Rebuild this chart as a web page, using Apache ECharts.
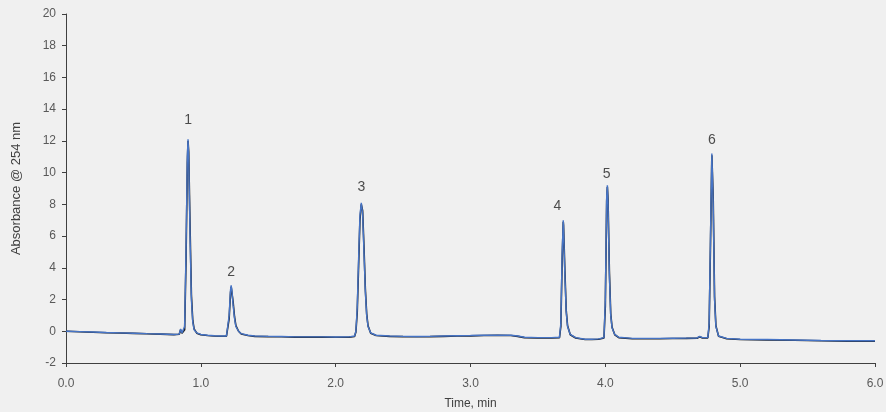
<!DOCTYPE html>
<html>
<head>
<meta charset="utf-8">
<script src="https://cdn.jsdelivr.net/npm/echarts@6/dist/echarts.min.js"></script>
<style>
html,body{margin:0;padding:0;background:#f0f0f0;}
#c{width:886px;height:412px;}
</style>
</head>
<body>
<div id="c"></div>
<script>
var traceTime = [0.00,0.10,0.20,0.30,0.40,0.50,0.60,0.70,0.80,0.84,0.85,0.86,0.87,0.88,0.89,0.90,0.905,0.91,0.92,0.93,0.94,0.95,0.97,1.00,1.05,1.10,1.15,1.19,1.20,1.21,1.22,1.225,1.23,1.24,1.25,1.26,1.28,1.30,1.35,1.40,1.50,1.60,1.70,1.80,1.90,2.00,2.10,2.14,2.15,2.16,2.17,2.18,2.19,2.20,2.21,2.22,2.23,2.24,2.26,2.30,2.40,2.50,2.60,2.70,2.80,2.90,3.00,3.10,3.20,3.30,3.35,3.40,3.50,3.60,3.66,3.67,3.68,3.688,3.69,3.70,3.71,3.72,3.74,3.78,3.85,3.90,3.95,3.99,4.00,4.01,4.015,4.02,4.03,4.04,4.05,4.07,4.10,4.20,4.30,4.40,4.50,4.60,4.68,4.70,4.72,4.76,4.77,4.78,4.79,4.80,4.81,4.82,4.84,4.90,5.00,5.20,5.40,5.60,5.80,6.00];
var blueAbs = [0.00,-0.02,-0.05,-0.08,-0.10,-0.12,-0.15,-0.17,-0.20,-0.18,0.15,-0.10,-0.20,0.30,5.0,11.0,12.1,11.0,6.0,2.0,0.6,0.1,-0.10,-0.20,-0.25,-0.28,-0.30,-0.30,-0.20,1.0,2.6,2.9,2.6,1.6,0.8,0.3,0.0,-0.15,-0.25,-0.30,-0.32,-0.33,-0.35,-0.35,-0.35,-0.36,-0.35,-0.30,0.0,1.5,4.5,7.3,8.1,7.4,5.0,2.5,1.0,0.3,-0.10,-0.25,-0.30,-0.32,-0.33,-0.32,-0.30,-0.28,-0.27,-0.25,-0.24,-0.25,-0.30,-0.38,-0.40,-0.40,-0.38,0.5,5.0,7.0,6.5,3.5,1.2,0.3,-0.20,-0.40,-0.50,-0.50,-0.48,-0.40,2.0,8.5,9.2,8.0,3.5,1.0,0.2,-0.20,-0.38,-0.45,-0.45,-0.45,-0.44,-0.43,-0.42,-0.32,-0.40,-0.40,0.5,6.0,11.2,8.0,2.0,0.3,-0.30,-0.45,-0.50,-0.52,-0.55,-0.58,-0.60,-0.60];
var blackAbs = [0.00,-0.03,-0.06,-0.09,-0.11,-0.13,-0.16,-0.18,-0.21,-0.19,0.10,-0.12,-0.21,0.10,4.4,10.6,12.0,11.3,6.6,2.3,0.7,0.15,-0.12,-0.22,-0.27,-0.30,-0.31,-0.31,-0.24,0.8,2.4,2.8,2.7,1.8,0.9,0.35,0.0,-0.17,-0.27,-0.32,-0.34,-0.35,-0.37,-0.37,-0.37,-0.38,-0.37,-0.33,-0.05,1.2,4.1,7.0,8.0,7.6,5.3,2.7,1.1,0.35,-0.12,-0.27,-0.32,-0.34,-0.35,-0.34,-0.32,-0.30,-0.29,-0.27,-0.26,-0.27,-0.32,-0.40,-0.42,-0.42,-0.40,0.3,4.6,6.9,6.7,3.8,1.3,0.35,-0.22,-0.42,-0.52,-0.52,-0.50,-0.42,1.6,8.2,9.1,8.3,3.8,1.1,0.25,-0.22,-0.40,-0.47,-0.47,-0.47,-0.46,-0.45,-0.44,-0.35,-0.42,-0.42,0.3,5.5,11.1,8.4,2.2,0.35,-0.32,-0.47,-0.52,-0.54,-0.57,-0.60,-0.62,-0.62];
var peakNames = ['1','2','3','4','5','6'];
var labelTimes = [0.905,1.225,2.19,3.645,4.01,4.79];
var labelAnchors = [12.5,2.9,8.25,7.05,9.1,11.2];
var xTicks = [0,1,2,3,4,5,6];
var yTicks = [-2,0,2,4,6,8,10,12,14,16,18,20];

function pairs(xs, ys){ var o=[]; for(var i=0;i<xs.length;i++){o.push([xs[i],ys[i]]);} return o; }
var fontFam = "'Liberation Sans',sans-serif";
var chart = echarts.init(document.getElementById('c'));
chart.setOption({
  backgroundColor:'#f0f0f0',
  animation:false,
  grid:{left:66,right:11,top:14,bottom:49,containLabel:false,outerBoundsMode:'none'},
  xAxis:{
    type:'value',min:xTicks[0],max:xTicks[xTicks.length-1],interval:1,
    name:'Time, min',nameLocation:'middle',nameGap:35,
    nameTextStyle:{fontFamily:fontFam,fontSize:12,color:'#404040'},
    axisLine:{onZero:false,lineStyle:{color:'#404040',width:1}},
    axisTick:{show:true,length:4,lineStyle:{color:'#404040'}},
    axisLabel:{fontFamily:fontFam,fontSize:12,color:'#595959',margin:15,formatter:function(v){return v.toFixed(1);}},
    splitLine:{show:false}
  },
  yAxis:{
    type:'value',min:yTicks[0],max:yTicks[yTicks.length-1],interval:2,
    name:'Absorbance @ 254 nm',nameLocation:'middle',nameGap:43,
    nameTextStyle:{fontFamily:fontFam,fontSize:13,color:'#404040'},
    axisLine:{show:true,lineStyle:{color:'#404040',width:1}},
    axisTick:{show:true,length:4,lineStyle:{color:'#404040'}},
    axisLabel:{fontFamily:fontFam,fontSize:12,color:'#595959',margin:10},
    splitLine:{show:false}
  },
  series:[
    {type:'line',data:pairs(traceTime,blackAbs),showSymbol:false,symbol:'none',
     lineStyle:{color:'#1a1a1a',width:1.6},z:2},
    {type:'line',data:pairs(traceTime,blueAbs),showSymbol:false,symbol:'none',
     lineStyle:{color:'#4674c6',width:1.4},z:3},
    {type:'scatter',data:pairs(labelTimes,labelAnchors),symbolSize:0.1,z:4,
     label:{show:true,position:'top',distance:6,fontFamily:fontFam,fontSize:14,color:'#222',
       formatter:function(p){return peakNames[p.dataIndex];}}}
  ]
});
</script>
</body>
</html>
